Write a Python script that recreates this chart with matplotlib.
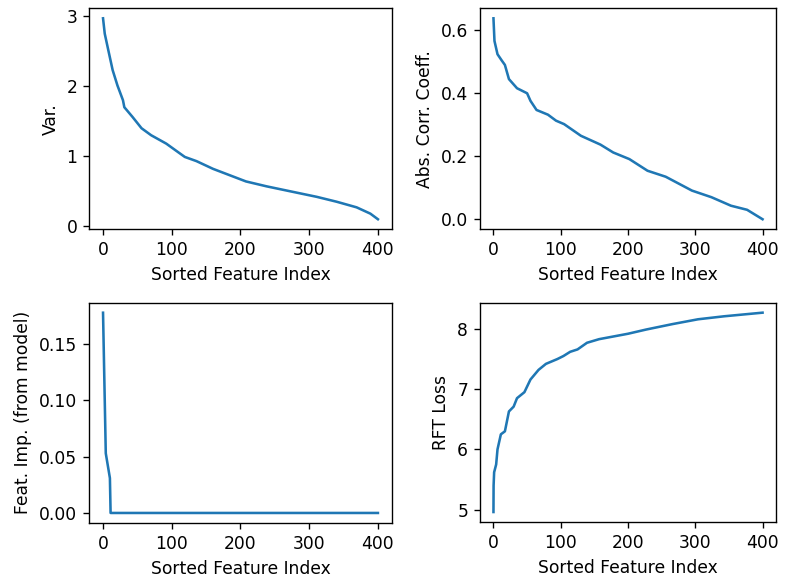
import numpy as np
import matplotlib
matplotlib.use("Agg")
import matplotlib.pyplot as plt

# 读数 (sorted feature index -> value)
var_x = [0, 2.5, 8, 14, 21, 29, 31, 43, 56, 70, 92, 109, 119, 136, 160, 184, 208, 238, 272, 311, 340, 369, 389, 400]
var_y = [2.97, 2.75, 2.50, 2.23, 2.01, 1.80, 1.70, 1.56, 1.40, 1.30, 1.18, 1.06, 0.99, 0.93, 0.82, 0.73, 0.64, 0.57, 0.50, 0.42, 0.35, 0.27, 0.18, 0.10]

corr_x = [0, 1.5, 6, 12, 17, 23, 35, 50, 55, 64, 81, 93, 105, 130, 159, 178, 202, 229, 256, 295, 324, 353, 377, 400]
corr_y = [0.638, 0.566, 0.524, 0.505, 0.49, 0.445, 0.416, 0.40, 0.376, 0.347, 0.332, 0.313, 0.302, 0.265, 0.237, 0.212, 0.191, 0.154, 0.135, 0.091, 0.070, 0.043, 0.030, 0.0]

imp_x = [0, 4, 10, 11, 400]
imp_y = [0.178, 0.053, 0.031, 0.0, 0.0]

loss_x = [0, 0.2, 1, 4, 6, 11, 17, 23, 30, 35, 46, 55, 67, 78, 95, 104, 114, 125, 139, 157, 200, 227, 266, 304, 343, 400]
loss_y = [4.96, 5.40, 5.62, 5.75, 6.0, 6.25, 6.30, 6.63, 6.71, 6.85, 6.95, 7.16, 7.32, 7.42, 7.50, 7.55, 7.62, 7.66, 7.77, 7.83, 7.92, 7.99, 8.08, 8.16, 8.21, 8.27]

panels = [
    (var_x, var_y, "Var.", [0, 1, 2, 3], [0.1136, 0.6033, 0.3847, 0.3824]),
    (corr_x, corr_y, "Abs. Corr. Coeff.", [0.0, 0.2, 0.4, 0.6], [0.6107, 0.6033, 0.3766, 0.3824]),
    (imp_x, imp_y, "Feat. Imp. (from model)", [0.0, 0.05, 0.10, 0.15], [0.1136, 0.0952, 0.3847, 0.3811]),
    (loss_x, loss_y, "RFT Loss", [5, 6, 7, 8], [0.6107, 0.0969, 0.3766, 0.3794]),
]

fig = plt.figure(figsize=(786 / 123, 578 / 123), dpi=123)
for x, y, lab, yt, pos in panels:
    ax = fig.add_axes(pos)
    ax.plot(x, y, color="#1f77b4")
    ax.set_xlabel("Sorted Feature Index")
    ax.set_ylabel(lab)
    ax.set_xticks([0, 100, 200, 300, 400])
    ax.set_yticks(yt)

fig.savefig("out.png", dpi=123)
